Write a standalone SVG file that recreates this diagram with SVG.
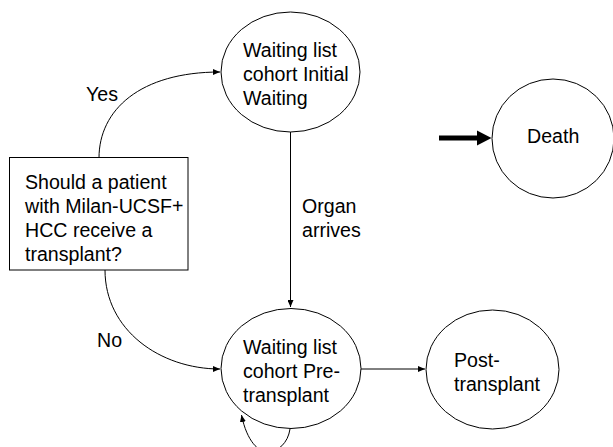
<svg xmlns="http://www.w3.org/2000/svg" width="613" height="447" viewBox="0 0 613 447">
<style>
.n{fill:#fff;stroke:#000;stroke-width:1}
.t{font-family:"Liberation Sans",Arial,sans-serif;font-size:19.6px;fill:#000}
.c{fill:none;stroke:#000;stroke-width:1}
</style>
<defs>
<marker id="a" markerWidth="8" markerHeight="6" refX="7" refY="3" orient="auto" markerUnits="userSpaceOnUse">
<path d="M0,0 L7,3 L0,6 Z" fill="#000"/>
</marker>
</defs>
<rect width="613" height="447" fill="#fff"/>
<g id="connectors">
<path class="c" d="M99,158 C99,110 140,72 220,72" marker-end="url(#a)"/>
<path class="c" d="M105,270 C105,330 160,369 220,369" marker-end="url(#a)"/>
<path class="c" d="M290.5,132 L290.5,307" marker-end="url(#a)"/>
<path class="c" d="M361,369 L425,369" marker-end="url(#a)"/>
<path class="c" d="M290,429 C288,443 278,452 267,452 C259,452 247,442 241.5,415" marker-end="url(#a)"/>
<line x1="439" y1="138" x2="478" y2="138" stroke="#000" stroke-width="5"/>
<path d="M477,130.5 L491.5,138 L477,145.5 Z" fill="#000"/>
</g>
<g id="labels">
<text class="t" x="86" y="101">Yes</text>
<text class="t" x="97" y="347">No</text>
<text class="t" x="302" y="213">Organ</text>
<text class="t" x="302" y="237">arrives</text>
</g>
<g id="decision">
<rect class="n" x="9.5" y="157.5" width="178.5" height="112.5"/>
<text class="t" x="25" y="189">Should a patient</text>
<text class="t" x="25" y="213">with Milan-UCSF+</text>
<text class="t" x="25" y="237">HCC receive a</text>
<text class="t" x="25" y="261">transplant?</text>
</g>
<g id="initial">
<ellipse class="n" cx="290.5" cy="72" rx="69.5" ry="60"/>
<text class="t" x="243" y="56.5">Waiting list</text>
<text class="t" x="243" y="80.5">cohort Initial</text>
<text class="t" x="243" y="104.5">Waiting</text>
</g>
<g id="pretransplant">
<ellipse class="n" cx="291" cy="368.5" rx="70" ry="60"/>
<text class="t" x="243" y="354">Waiting list</text>
<text class="t" x="243" y="378">cohort Pre-</text>
<text class="t" x="243" y="402">transplant</text>
</g>
<g id="post">
<ellipse class="n" cx="492.5" cy="369.5" rx="66.5" ry="59.5"/>
<text class="t" x="454" y="366.5">Post-</text>
<text class="t" x="454" y="390.5">transplant</text>
</g>
<g id="death">
<ellipse class="n" cx="553" cy="138.5" rx="61" ry="59.5"/>
<text class="t" x="527" y="143">Death</text>
</g>
</svg>
